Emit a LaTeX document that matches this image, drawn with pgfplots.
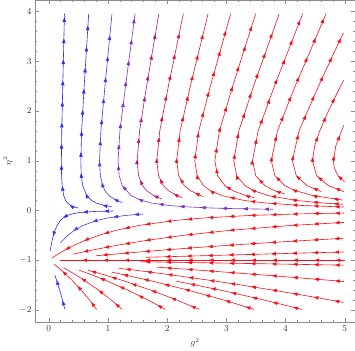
\documentclass[border=0pt]{standalone}
\usepackage{pgfplots}
\pgfplotsset{compat=1.18}
\usetikzlibrary{decorations.markings,arrows.meta}

\definecolor{sblue}{RGB}{45,45,245}
\definecolor{sblue2}{RGB}{85,50,230}
\definecolor{spurp}{RGB}{130,45,195}
\definecolor{smag}{RGB}{175,25,130}
\definecolor{srose}{RGB}{225,15,70}
\definecolor{sred}{RGB}{250,15,25}

\tikzset{
  flow/.style={line width=0.6pt,
    postaction={decorate},
    decoration={markings,
      mark=between positions 9pt and -3pt step 21pt with {\arrow{Triangle[length=4.6pt,width=3.4pt]}}}},
}

\begin{document}
\begin{tikzpicture}
\begin{axis}[
  scale only axis,
  width=318pt, height=320pt,
  xmin=-0.23, xmax=5.17, ymin=-2.24, ymax=4.23,
  xtick={0,1,2,3,4,5}, ytick={-2,-1,0,1,2,3,4},
  minor tick num=4,
  tick align=inside,
  major tick length=4pt, minor tick length=2pt,
  axis line style={black!45},
  every tick/.style={black!45},
  tick label style={font=\small, text=black!80},
  xlabel={$g^2$}, ylabel={$\eta^2$},
  label style={font=\small, text=black!80},
  clip=true,
]
% upper family: flow rises
\addplot[flow, sblue] coordinates {(0.500,0.05)(0.418,0.075)(0.370,0.1)(0.316,0.15)(0.285,0.2)(0.252,0.3)(0.226,0.5)(0.216,0.7)(0.213,1.0)(0.219,1.6)(0.236,2.5)(0.250,3.2)(0.265,3.96)};
\addplot[flow, sblue] coordinates {(1.061,0.075)(0.940,0.1)(0.802,0.15)(0.725,0.2)(0.641,0.3)(0.573,0.5)(0.549,0.7)(0.541,1.0)(0.555,1.6)(0.598,2.5)(0.635,3.2)(0.674,3.96)};
\addplot[flow, sblue2] coordinates {(1.242,0.16)(1.150,0.2)(1.017,0.3)(0.949,0.4)(0.909,0.5)(0.871,0.7)(0.857,1.0)(0.880,1.6)(0.949,2.5)(1.006,3.2)(1.068,3.96)};
\addplot[flow, spurp] coordinates {(3.793,0.025)(3.480,0.03)(3.043,0.04)(2.748,0.05)(2.297,0.075)(2.036,0.1)(1.737,0.15)(1.570,0.2)(1.389,0.3)(1.241,0.5)(1.189,0.7)(1.170,1.0)(1.202,1.6)(1.296,2.5)(1.374,3.2)(1.458,3.96)};
\addplot[flow, smag] coordinates {(1.914,0.23)(1.771,0.3)(1.652,0.4)(1.583,0.5)(1.516,0.7)(1.493,1.0)(1.534,1.6)(1.652,2.5)(1.752,3.2)(1.860,3.96)};
\addplot[flow, srose] coordinates {(2.255,0.26)(2.165,0.3)(2.020,0.4)(1.935,0.5)(1.854,0.7)(1.825,1.0)(1.875,1.6)(2.020,2.5)(2.142,3.2)(2.274,3.96)};
\addplot[flow, sred] coordinates {(2.612,0.28)(2.563,0.3)(2.391,0.4)(2.290,0.5)(2.194,0.7)(2.160,1.0)(2.219,1.6)(2.391,2.5)(2.536,3.2)(2.692,3.96)};
\addplot[flow, sred] coordinates {(4.986,0.07)(4.290,0.1)(3.661,0.15)(3.308,0.2)(2.926,0.3)(2.730,0.4)(2.615,0.5)(2.506,0.7)(2.466,1.0)(2.534,1.6)(2.730,2.5)(2.895,3.2)(3.073,3.96)};
\addplot[flow, sred] coordinates {(3.467,0.26)(3.330,0.3)(3.106,0.4)(2.976,0.5)(2.851,0.7)(2.806,1.0)(2.883,1.6)(3.106,2.5)(3.294,3.2)(3.497,3.96)};
\addplot[flow, sred] coordinates {(4.971,0.125)(4.639,0.15)(4.192,0.2)(3.708,0.3)(3.459,0.4)(3.314,0.5)(3.175,0.7)(3.125,1.0)(3.211,1.6)(3.459,2.5)(3.669,3.2)(3.894,3.96)};
\addplot[flow, sred] coordinates {(3.985,0.33)(3.811,0.4)(3.651,0.5)(3.497,0.7)(3.442,1.0)(3.537,1.6)(3.811,2.5)(4.041,3.2)(4.290,3.96)};
\addplot[flow, sred] coordinates {(4.963,0.21)(4.461,0.3)(4.162,0.4)(3.987,0.5)(3.820,0.7)(3.759,1.0)(3.863,1.6)(4.162,2.5)(4.414,3.2)(4.685,3.96)};
\addplot[flow, sred] coordinates {(4.607,0.38)(4.364,0.5)(4.181,0.7)(4.115,1.0)(4.228,1.6)(4.556,2.5)(4.751,3.0)(4.949,3.5)(4.978,3.57)};
\addplot[flow, sred] coordinates {(4.987,0.38)(4.724,0.5)(4.526,0.7)(4.454,1.0)(4.492,1.3)(4.577,1.6)(4.724,2.0)(4.846,2.3)(4.981,2.62)};
\addplot[flow, sred] coordinates {(4.999,0.57)(4.885,0.7)(4.825,0.85)(4.808,1.0)(4.849,1.3)(4.982,1.71)};
% between eta=0 and eta=-1: flow falls to (0,-1)
\addplot[flow, sblue] coordinates {(1.092,-0.01)(0.764,-0.02)(0.529,-0.04)(0.387,-0.07)(0.314,-0.1)(0.242,-0.15)(0.197,-0.2)(0.141,-0.3)(0.105,-0.4)(0.078,-0.5)(0.057,-0.6)(0.040,-0.7)(0.022,-0.82)};
\addplot[flow, sblue2] coordinates {(1.597,-0.07)(1.294,-0.1)(0.998,-0.15)(0.813,-0.2)(0.581,-0.3)(0.431,-0.4)(0.321,-0.5)(0.197,-0.65)};
\addplot[flow, sred] coordinates {(4.99,-0.051)(4.19,-0.07)(3.40,-0.1)(2.622,-0.15)(2.137,-0.2)(1.527,-0.3)(1.133,-0.4)(0.845,-0.5)(0.617,-0.6)(0.428,-0.7)(0.267,-0.8)(0.126,-0.9)(0.049,-0.96)};
\addplot[flow, sred] coordinates {(4.988,-0.24)(4.109,-0.3)(3.050,-0.4)(2.274,-0.5)(1.660,-0.6)(1.153,-0.7)(0.719,-0.8)(0.523,-0.85)(0.410,-0.88)};
\addplot[flow, sred] coordinates {(4.98,-0.56)(4.376,-0.6)(3.679,-0.65)(3.039,-0.7)(2.446,-0.75)(1.895,-0.8)(1.379,-0.85)(0.893,-0.9)(0.80,-0.91)};
\addplot[flow, sred] coordinates {(4.98,-0.835)(4.48,-0.85)(2.904,-0.9)(1.64,-0.942)};
\addplot[flow, sred] coordinates {(5.0,-1)(2.6,-1)(0.19,-1)};
% below eta=-1: flow rises to (0,-1)
\addplot[flow, sred] coordinates {(4.99,-1.1)(4.03,-1.08)(2.555,-1.05)(1.548,-1.03)};
\addplot[flow, sred] coordinates {(4.99,-1.43)(4.70,-1.4)(3.654,-1.3)(2.536,-1.2)(2.183,-1.17)(1.83,-1.14)};
\addplot[flow, sred] coordinates {(4.979,-1.85)(4.751,-1.8)(4.278,-1.7)(3.779,-1.6)(3.253,-1.5)(2.694,-1.4)(2.096,-1.3)(1.455,-1.2)(1.19,-1.165)};
\addplot[flow, sred] coordinates {(0.809,-1.99)(0.688,-1.8)(0.547,-1.6)(0.390,-1.4)(0.211,-1.2)(0.110,-1.1)(0.089,-1.08)};
\addplot[flow, sred] coordinates {(1.240,-1.99)(1.054,-1.8)(0.838,-1.6)(0.597,-1.4)(0.323,-1.2)(0.247,-1.15)};
\addplot[flow, sred] coordinates {(1.971,-1.99)(1.675,-1.8)(1.332,-1.6)(0.950,-1.4)(0.739,-1.3)(0.513,-1.2)};
\addplot[flow, sred] coordinates {(2.543,-1.99)(2.160,-1.8)(1.718,-1.6)(1.225,-1.4)(0.953,-1.3)(0.662,-1.2)};
\addplot[flow, sred] coordinates {(3.474,-1.99)(2.952,-1.8)(2.348,-1.6)(1.674,-1.4)(1.067,-1.24)};
\addplot[flow, sred] coordinates {(4.279,-1.99)(3.636,-1.8)(2.892,-1.6)(2.149,-1.42)};
\addplot[flow, sblue] coordinates {(0.272,-1.99)(0.231,-1.8)(0.184,-1.6)(0.131,-1.4)(0.102,-1.3)};
\end{axis}
\end{tikzpicture}
\end{document}
